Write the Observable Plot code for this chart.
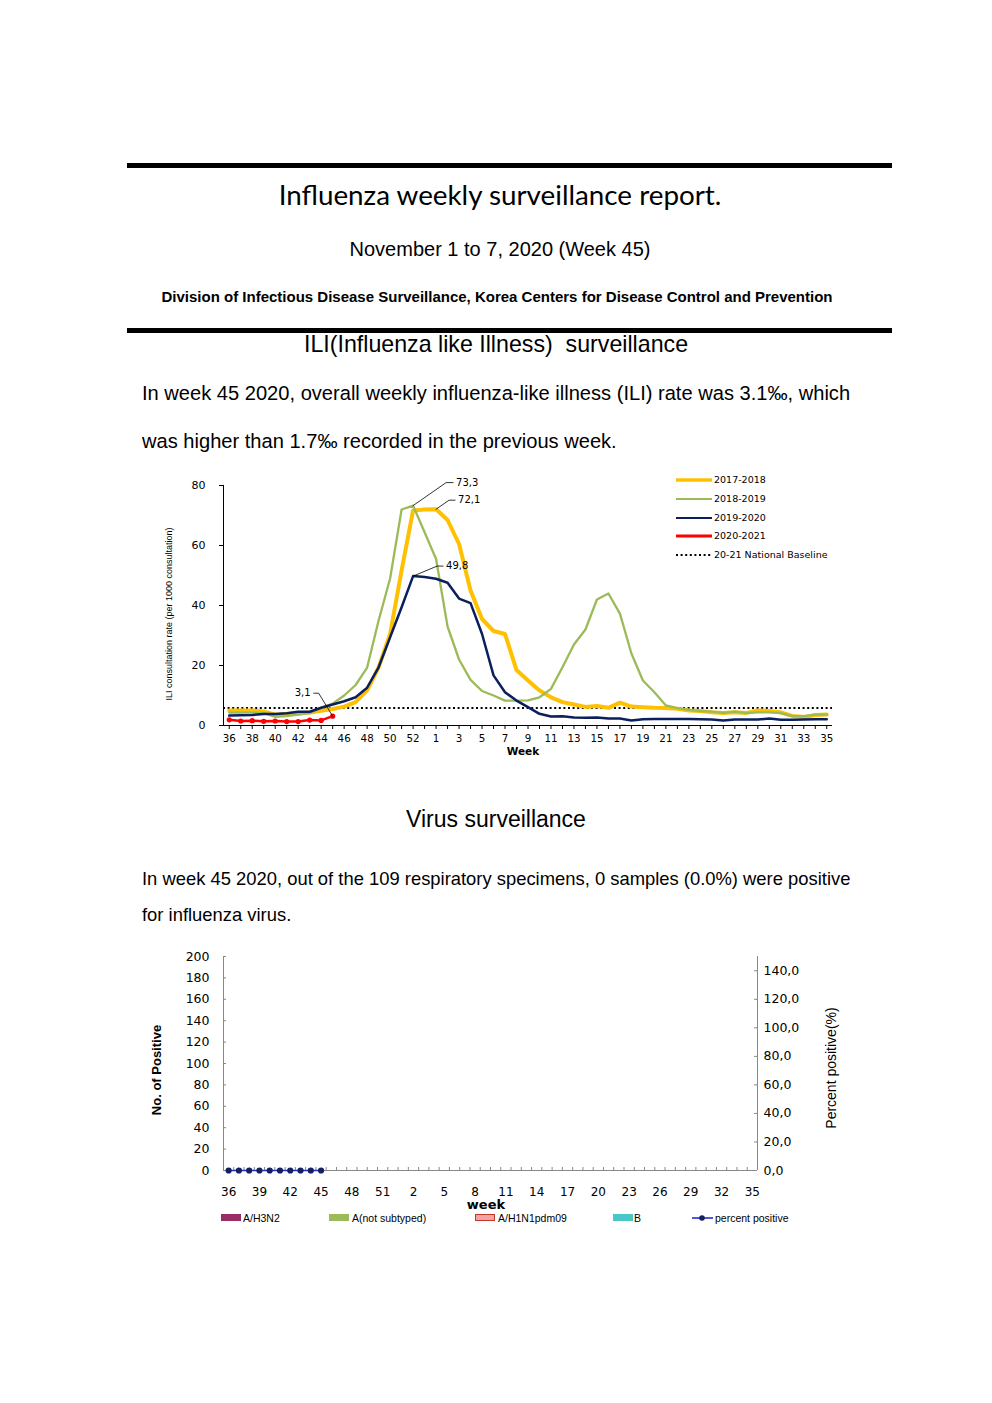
<!DOCTYPE html>
<html>
<head>
<meta charset="utf-8">
<script src="https://cdn.jsdelivr.net/npm/d3@7"></script>
<script src="https://cdn.jsdelivr.net/npm/@observablehq/plot@0.6"></script>
<style>
  html, body { margin: 0; padding: 0; background: #fff; }
  #page { position: relative; width: 992px; height: 1403px; background: #fff; overflow: hidden; color: #000; }
  .t { position: absolute; white-space: pre; line-height: 1.2; }
  .rule { position: absolute; left: 127px; width: 765px; height: 5px; background: #000; }
  .chart { position: absolute; }
  .chart svg { overflow: visible; }
</style>
</head>
<body>
<div id="page">
  <div class="rule" style="top:163px"></div>
  <div class="rule" style="top:328px"></div>
</div>
<script>
// ---------------- DATA ----------------
// ILI chart (per 1,000 consultations), weeks 36..53, 1..35
const weeksILI = [36,37,38,39,40,41,42,43,44,45,46,47,48,49,50,51,52,53,
  1,2,3,4,5,6,7,8,9,10,11,12,13,14,15,16,17,18,19,20,21,22,23,24,25,26,27,28,29,30,31,32,33,34,35];
const ili1718 = [5.0,5.0,5.0,4.7,3.6,3.8,4.0,4.3,4.9,5.5,6.3,7.8,11.7,19.4,30.5,51.7,71.7,72.0,
  72.1,68.5,60.5,45.0,35.5,31.5,30.5,18.5,15.0,11.7,9.4,7.8,7.0,6.2,6.5,5.9,7.6,6.3,6.1,5.9,5.8,5.6,5.0,4.8,4.4,4.2,4.4,4.2,5.0,4.8,4.4,3.2,2.8,3.5,3.7];
const ili1819 = [4.3,4.3,4.3,4.2,2.9,3.1,3.6,4.1,5.9,7.3,10.0,13.5,19.3,35.0,49.0,72.0,73.3,64.4,
  55.5,33.0,22.0,15.2,11.5,10.0,8.3,8.3,8.4,9.4,12.2,19.4,27.0,32.0,42.0,44.0,37.3,24.0,15.0,11.1,6.7,5.8,5.2,4.8,4.6,4.2,4.6,4.1,4.4,4.4,4.1,3.1,3.1,3.6,3.6];
const ili1920 = [3.3,3.4,3.5,3.8,3.8,4.1,4.6,4.6,5.9,7.0,8.1,9.4,12.6,19.4,29.4,39.4,49.8,49.5,
  48.9,47.6,42.3,40.8,30.5,16.7,11.1,8.3,6.1,3.9,3.0,3.1,2.7,2.6,2.7,2.3,2.3,1.7,2.1,2.2,2.2,2.2,2.2,2.1,2.0,1.7,2.0,2.0,2.0,2.3,1.9,1.9,2.0,2.1,2.1];
const ili2021 = [1.9,1.5,1.6,1.4,1.5,1.3,1.3,1.8,1.7,3.1];
const nationalBaseline = 5.8;
const iliTicksY = [0,20,40,60,80];
const seasonNames = ["2017-2018","2018-2019","2019-2020","2020-2021"];
const seasonColors = ["#ffc000","#9bbb59","#0a1f5c","#ff0000"];
const iliAnnotations = [
  {label:"73,3", week:52, value:73.3},
  {label:"72,1", week:1, value:72.1},
  {label:"49,8", week:52, value:49.8},
  {label:"3,1", week:45, value:3.1}
];

// Virus chart, weeks 36..52, 1..35
const weeksVirus = [36,37,38,39,40,41,42,43,44,45,46,47,48,49,50,51,52,
  1,2,3,4,5,6,7,8,9,10,11,12,13,14,15,16,17,18,19,20,21,22,23,24,25,26,27,28,29,30,31,32,33,34,35];
const virusTypes = ["A/H3N2","A(not subtyped)","A/H1N1pdm09","B"];
const virusColors = ["#9b2d66","#9bbb59","#f4a3a3","#4bc6c6"];
const posH3N2 = [0,0,0,0,0,0,0,0,0,0];
const posNotSub = [0,0,0,0,0,0,0,0,0,0];
const posH1N1 = [0,0,0,0,0,0,0,0,0,0];
const posB = [0,0,0,0,0,0,0,0,0,0];
const percentPositive = [0,0,0,0,0,0,0,0,0,0];
const virusTicksLeft = [0,20,40,60,80,100,120,140,160,180,200];
const virusTicksRight = [0,20,40,60,80,100,120,140];
const virusLeftMax = 200, virusRightMax = 150;

// ---------------- PAGE TEXT ----------------
const page = document.getElementById("page");
function txt(str, o) {
  const d = document.createElement("div");
  d.className = "t";
  d.textContent = str;
  const fam = o.family || "'Liberation Sans', Arial, sans-serif";
  const asc = o.asc || 0.9465;
  d.style.fontFamily = fam;
  d.style.fontSize = o.fs + "px";
  if (o.weight) d.style.fontWeight = o.weight;
  d.style.top = (o.base - asc * o.fs) + "px";
  if (o.anchor === "middle") {
    d.style.left = (o.x - 500) + "px"; d.style.width = "1000px"; d.style.textAlign = "center";
  } else {
    d.style.left = o.x + "px";
  }
  page.appendChild(d);
  return d;
}
txt("Influenza weekly surveillance report.", {x:500, base:205, fs:27.8, anchor:"middle", family:"Lato, 'Open Sans', sans-serif", asc:0.987});
txt("November 1 to 7, 2020 (Week 45)", {x:500, base:256, fs:20, anchor:"middle"});
txt("Division of Infectious Disease Surveillance, Korea Centers for Disease Control and Prevention", {x:497, base:302, fs:15, anchor:"middle", weight:"bold"});
txt("ILI(Influenza like Illness)  surveillance", {x:496, base:353, fs:23.2, anchor:"middle"});
txt("In week 45 2020, overall weekly influenza-like illness (ILI) rate was 3.1\u2030, which", {x:142, base:400, fs:20.1});
txt("was higher than 1.7\u2030 recorded in the previous week.", {x:142, base:448, fs:20.1});
txt("Virus surveillance", {x:496, base:828, fs:23, anchor:"middle"});
txt("In week 45 2020, out of the 109 respiratory specimens, 0 samples (0.0%) were positive", {x:142, base:885, fs:18.4});
txt("for influenza virus.", {x:142, base:921, fs:18.4});

// ---------------- CHART 1: ILI ----------------
const rowsOf = (arr, s) => arr.map((v, i) => ({i, week: weeksILI[i], v, s}));
const series = [ili1718, ili1819, ili1920, ili2021].map((a, k) => rowsOf(a, seasonNames[k]));
const idxOfWeek = w => weeksILI.indexOf(w);
// leader-line layout (pixel offsets from the annotated point)
const pxPerWeek = (832 - 223) / 53, pxPerUnit = 3;
const leaderLayout = {
  "73,3": {ex: 33, ey: -23, tx: 40, anchor: "start"},
  "72,1": {ex: 13, ey: -9, tx: 19, anchor: "start"},
  "49,8": {ex: 24, ey: -10, tx: 30, anchor: "start"},
  "3,1": {ex: -14, ey: -23, tx: -19, anchor: "end"}
};
const leaderPts = [], leaderLabels = [];
for (const a of iliAnnotations) {
  const L = leaderLayout[a.label];
  const i0 = idxOfWeek(a.week);
  const pi = px => i0 + px / pxPerWeek, pv = py => a.value - py / pxPerUnit;
  leaderPts.push({k: a.label, i: i0, v: a.value});
  leaderPts.push({k: a.label, i: pi(L.ex), v: pv(L.ey)});
  leaderPts.push({k: a.label, i: pi(L.tx), v: pv(L.ey)});
  leaderLabels.push({label: a.label, i: pi(L.tx), v: pv(L.ey), anchor: L.anchor});
}

const chart1 = Plot.plot({
  width: 700, height: 295,
  marginLeft: 73, marginRight: 18, marginTop: 20, marginBottom: 35,
  style: {fontFamily: "'DejaVu Sans', sans-serif", fontSize: "10px", background: "transparent", color: "#000"},
  x: {domain: [-0.5, 52.5]},
  y: {domain: [0, 80]},
  marks: [
    Plot.axisY({ticks: iliTicksY, tickSize: 4, tickPadding: 14, fontSize: 11, label: null, tickFormat: d => d}),
    Plot.axisX({ticks: d3.range(weeksILI.length), tickSize: 4, tickPadding: 5, fontSize: 10.3, label: null,
      tickFormat: i => (i % 2 === 0 ? String(weeksILI[i]) : "")}),
    Plot.ruleX([-0.5], {stroke: "#000", strokeWidth: 1}),
    Plot.ruleY([0], {stroke: "#000", strokeWidth: 1}),
    Plot.ruleY([nationalBaseline], {stroke: "#000", strokeWidth: 2, strokeDasharray: "2 2.6"}),
    Plot.line(series[0], {x: "i", y: "v", stroke: seasonColors[0], strokeWidth: 4}),
    Plot.line(series[1], {x: "i", y: "v", stroke: seasonColors[1], strokeWidth: 2.3}),
    Plot.line(series[2], {x: "i", y: "v", stroke: seasonColors[2], strokeWidth: 2.5}),
    Plot.line(series[3], {x: "i", y: "v", stroke: seasonColors[3], strokeWidth: 2.5}),
    Plot.dot(series[3], {x: "i", y: "v", r: 2.6, fill: seasonColors[3]}),
    Plot.line(leaderPts, {x: "i", y: "v", z: "k", stroke: "#000", strokeWidth: 0.8}),
    Plot.text(leaderLabels.filter(d => d.anchor === "start"), {x: "i", y: "v", text: "label", textAnchor: "start", dx: 3, fontSize: 10, fill: "#000"}),
    Plot.text(leaderLabels.filter(d => d.anchor === "end"), {x: "i", y: "v", text: "label", textAnchor: "end", dx: -3, fontSize: 10, fill: "#000"})
  ]
});
const c1 = document.createElement("div");
c1.className = "chart"; c1.style.left = "150px"; c1.style.top = "465px";
c1.appendChild(chart1);
page.appendChild(c1);

// y-axis title (chart 1)
const yt1 = txt("ILI consultation rate (per 1000 consultation)", {x:0, base:0, fs:9});
yt1.style.left = "0px"; yt1.style.top = "0px";
yt1.style.transformOrigin = "0 0";
yt1.style.width = "190px"; yt1.style.textAlign = "center";
yt1.style.transform = "translate(164px, 709px) rotate(-90deg)";
// x-axis title
txt("Week", {x:523, base:755, fs:10.5, anchor:"middle", weight:"bold", family:"'DejaVu Sans', sans-serif", asc:1.0});

// legend (chart 1)
const legendRows = [480, 499, 518, 536, 555];
const legendItems = [
  {name: "2017-2018", color: seasonColors[0], w: 3.5, dash: null},
  {name: "2018-2019", color: seasonColors[1], w: 2, dash: null},
  {name: "2019-2020", color: seasonColors[2], w: 2.2, dash: null},
  {name: "2020-2021", color: seasonColors[3], w: 3, dash: null},
  {name: "20-21 National Baseline", color: "#000", w: 2, dash: "2 2.6"}
];
legendItems.forEach((it, k) => {
  const cy = legendRows[k];
  const s = document.createElementNS("http://www.w3.org/2000/svg", "svg");
  s.setAttribute("width", 40); s.setAttribute("height", 8);
  s.style.position = "absolute"; s.style.left = "674px"; s.style.top = (cy - 4) + "px";
  const ln = document.createElementNS("http://www.w3.org/2000/svg", "line");
  ln.setAttribute("x1", 2); ln.setAttribute("x2", 38); ln.setAttribute("y1", 4); ln.setAttribute("y2", 4);
  ln.setAttribute("stroke", it.color); ln.setAttribute("stroke-width", it.w);
  if (it.dash) ln.setAttribute("stroke-dasharray", it.dash);
  s.appendChild(ln); page.appendChild(s);
  txt(it.name, {x:714, base:cy + 3.4, fs:9.5, family:"'DejaVu Sans', sans-serif", asc:1.0});
});

// ---------------- CHART 2: Virus ----------------
const virusRows = [];
[posH3N2, posNotSub, posH1N1, posB].forEach((arr, k) => {
  arr.forEach((n, i) => virusRows.push({i, week: weeksVirus[i], type: virusTypes[k], n}));
});
const pctRows = percentPositive.map((p, i) => ({i, week: weeksVirus[i], p, pl: p * virusLeftMax / virusRightMax}));
const nW = weeksVirus.length;
const pxPerBand = (757 - 223) / nW;
const innerTick = 3 / pxPerBand; // 3px in x units
const tickHeight = 3 * virusLeftMax / 214; // 3px in y units

const chart2 = Plot.plot({
  width: 700, height: 260,
  marginLeft: 73, marginRight: 93, marginTop: 16, marginBottom: 30,
  style: {fontFamily: "'DejaVu Sans', sans-serif", fontSize: "12px", background: "transparent", color: "#000"},
  x: {domain: [-0.5, nW - 0.5]},
  y: {domain: [0, virusLeftMax]},
  color: {domain: virusTypes, range: virusColors},
  marks: [
    Plot.axisY({ticks: virusTicksLeft, tickSize: 0, tickPadding: 14, fontSize: 12.5, label: null}),
    Plot.axisY({anchor: "right", ticks: virusTicksRight.map(p => p * virusLeftMax / virusRightMax), tickSize: 0, tickPadding: 6,
      fontSize: 12.5, label: null, tickFormat: v => (v * virusRightMax / virusLeftMax).toFixed(1).replace(".", ",")}),
    Plot.axisX({ticks: d3.range(0, nW, 3), tickSize: 0, tickPadding: 17, fontSize: 12, label: null,
      tickFormat: i => String(weeksVirus[i])}),
    Plot.ruleY(virusTicksLeft, {x1: -0.5, x2: -0.5 + innerTick, stroke: "#888"}),
    Plot.ruleY(virusTicksRight.map(p => p * virusLeftMax / virusRightMax), {x1: nW - 0.5 - innerTick, x2: nW - 0.5, stroke: "#888"}),
    Plot.ruleX(d3.range(0.5, nW - 0.5, 1), {y1: 0, y2: tickHeight, stroke: "#888"}),
    Plot.ruleX([-0.5, nW - 0.5], {stroke: "#888"}),
    Plot.ruleY([0], {stroke: "#888"}),
    Plot.rectY(virusRows, {x1: d => d.i - 0.35, x2: d => d.i + 0.35, y: "n", fill: "type"}),
    Plot.line(pctRows, {x: "i", y: "pl", stroke: "#1f33c8", strokeWidth: 1.6}),
    Plot.dot(pctRows, {x: "i", y: "pl", r: 3.1, fill: "#13215e"})
  ]
});
const c2 = document.createElement("div");
c2.className = "chart"; c2.style.left = "150px"; c2.style.top = "940px";
c2.appendChild(chart2);
page.appendChild(c2);

// axis titles chart 2
const yl2 = txt("No. of Positive", {x:0, base:0, fs:13, weight:"bold"});
yl2.style.left = "0px"; yl2.style.top = "0px"; yl2.style.width = "120px"; yl2.style.textAlign = "center";
yl2.style.transformOrigin = "0 0";
yl2.style.transform = "translate(149px, 1130px) rotate(-90deg)";
const yr2 = txt("Percent positive(%)", {x:0, base:0, fs:14});
yr2.style.left = "0px"; yr2.style.top = "0px"; yr2.style.width = "160px"; yr2.style.textAlign = "center";
yr2.style.transformOrigin = "0 0";
yr2.style.transform = "translate(823px, 1148px) rotate(-90deg)";
const wk = txt("week", {x:486, base:1208.5, fs:13, anchor:"middle", weight:"bold", family:"'DejaVu Sans', sans-serif", asc:1.0});
wk.style.lineHeight = "9px";
wk.style.top = (1208.5 - 9.0) + "px";

// legend chart 2
const legend2 = [
  {name: virusTypes[0], color: virusColors[0], sx: 221, tx: 243},
  {name: virusTypes[1], color: virusColors[1], sx: 329, tx: 352},
  {name: virusTypes[2], color: virusColors[2], sx: 475, tx: 498, border: "#c0392b"},
  {name: virusTypes[3], color: virusColors[3], sx: 613, tx: 634}
];
legend2.forEach(it => {
  const sw = document.createElement("div");
  sw.style.position = "absolute"; sw.style.left = it.sx + "px"; sw.style.top = "1214px";
  sw.style.width = "20px"; sw.style.height = "7px"; sw.style.background = it.color;
  if (it.border) { sw.style.boxSizing = "border-box"; sw.style.border = "1px solid " + it.border; }
  page.appendChild(sw);
  txt(it.name, {x: it.tx, base: 1222, fs: 10.5});
});
{
  const s = document.createElementNS("http://www.w3.org/2000/svg", "svg");
  s.setAttribute("width", 24); s.setAttribute("height", 10);
  s.style.position = "absolute"; s.style.left = "690px"; s.style.top = "1213px";
  const ln = document.createElementNS("http://www.w3.org/2000/svg", "line");
  ln.setAttribute("x1", 2); ln.setAttribute("x2", 23); ln.setAttribute("y1", 5); ln.setAttribute("y2", 5);
  ln.setAttribute("stroke", "#1f33c8"); ln.setAttribute("stroke-width", 1.6);
  const c = document.createElementNS("http://www.w3.org/2000/svg", "circle");
  c.setAttribute("cx", 12); c.setAttribute("cy", 5); c.setAttribute("r", 2.8); c.setAttribute("fill", "#13215e");
  s.appendChild(ln); s.appendChild(c); page.appendChild(s);
  txt("percent positive", {x: 715, base: 1222, fs: 10.5});
}
</script>
</body>
</html>
